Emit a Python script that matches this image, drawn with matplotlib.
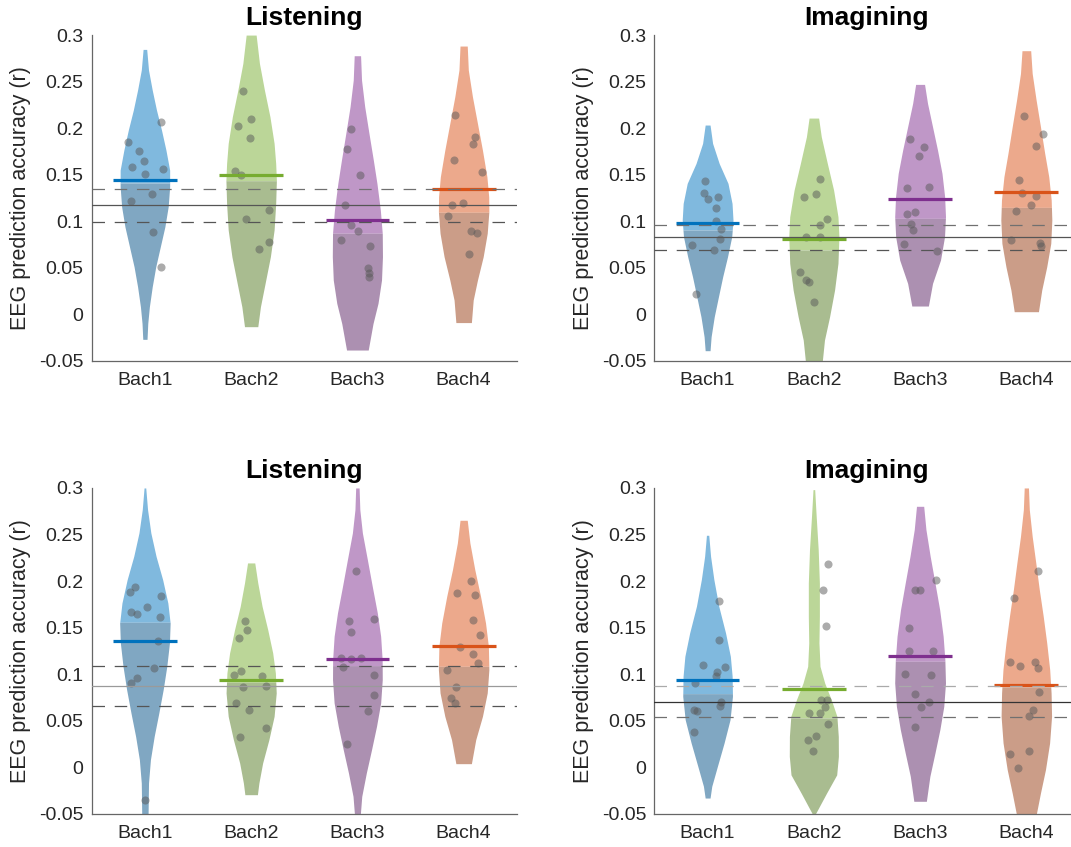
import matplotlib
matplotlib.use('Agg')
import matplotlib.pyplot as plt
import numpy as np

plt.rcParams['font.family'] = ['Liberation Sans', 'DejaVu Sans']
plt.rcParams['lines.scale_dashes'] = False

categories = ['Bach1', 'Bach2', 'Bach3', 'Bach4']
titles = ['Listening', 'Imagining', 'Listening', 'Imagining']
ylabel_text = 'EEG prediction accuracy (r)'
yticks = [-0.05, 0, 0.05, 0.1, 0.15, 0.2, 0.25, 0.3]
yticklabels = ['-0.05', '0', '0.05', '0.1', '0.15', '0.2', '0.25', '0.3']

# ---------------- Panel A: top-left, Listening ----------------
a_mean = [0.144, 0.150, 0.101, 0.135]
a_split = [0.141, 0.1435, 0.087, 0.1095]
a_thresh = [0.117, 0.135, 0.099]   # solid, upper dashed, lower dashed
a_edge_y = [
    [0.2846, 0.2624, 0.2409, 0.2194, 0.198, 0.1764, 0.1549, 0.137, 0.1155, 0.094, 0.0725, 0.051, 0.0296, 0.008, -0.0098, -0.027],
    [0.30, 0.2696, 0.2409, 0.2122, 0.1836, 0.162, 0.144, 0.119, 0.0905, 0.0618, 0.033, 0.0081, -0.0134],
    [0.2778, 0.2516, 0.223, 0.1943, 0.1657, 0.1406, 0.112, 0.0869, 0.0618, 0.0367, 0.0117, -0.010, -0.0385],
    [0.2882, 0.2624, 0.2337, 0.2051, 0.1764, 0.1478, 0.1263, 0.1102, 0.0869, 0.0618, 0.0367, 0.0152, -0.009],
]
a_edge_w = [
    [0.017, 0.034, 0.069, 0.109, 0.156, 0.198, 0.233, 0.233, 0.219, 0.188, 0.145, 0.102, 0.069, 0.042, 0.027, 0.020],
    [0.047, 0.078, 0.125, 0.177, 0.216, 0.231, 0.2375, 0.231, 0.216, 0.181, 0.131, 0.0875, 0.0625],
    [0.030, 0.039, 0.069, 0.109, 0.150, 0.184, 0.216, 0.234, 0.236, 0.227, 0.194, 0.147, 0.102],
    [0.034, 0.044, 0.083, 0.130, 0.177, 0.219, 0.236, 0.2375, 0.222, 0.184, 0.130, 0.090, 0.073],
]
a_pts = [
    [0.2069, 0.1847, 0.1754, 0.1646, 0.1585, 0.1564, 0.1506, 0.1295, 0.1213, 0.0887, 0.0504],
    [0.2398, 0.2097, 0.2022, 0.1893, 0.1542, 0.1499, 0.112, 0.1023, 0.0776, 0.070],
    [0.1986, 0.1775, 0.1499, 0.117, 0.0962, 0.089, 0.0797, 0.0733, 0.05, 0.0439, 0.0403],
    [0.214, 0.1908, 0.1825, 0.1653, 0.1528, 0.1191, 0.1177, 0.1052, 0.0898, 0.0869, 0.0643],
]
a_jit = [
    [0.147, -0.159, -0.056, -0.009, -0.125, 0.169, 0.003, 0.069, -0.131, 0.078, 0.156],
    [-0.072, -0.006, -0.125, -0.0125, -0.156, -0.094, 0.166, -0.047, 0.166, 0.078],
    [-0.059, -0.094, 0.022, -0.1125, -0.059, 0.003, -0.159, 0.122, 0.1, 0.109, 0.1125],
    [-0.081, 0.109, 0.084, -0.094, 0.169, -0.009, -0.106, -0.144, 0.072, 0.122, 0.053],
]

# ---------------- Panel B: top-right, Imagining ----------------
b_mean = [0.0976, 0.0811, 0.1234, 0.1313]
b_split = [0.0905, 0.069, 0.103, 0.1148]
b_thresh = [0.0826, 0.0955, 0.069]
b_edge_y = [
    [0.2033, 0.1836, 0.162, 0.1406, 0.1191, 0.1012, 0.0833, 0.0618, 0.0403, 0.0188, -0.0027, -0.0242, -0.0392],
    [0.2108, 0.1907, 0.162, 0.1334, 0.1048, 0.0833, 0.0547, 0.026, -0.0027, -0.0277, -0.05],
    [0.247, 0.2266, 0.2015, 0.1764, 0.1514, 0.1263, 0.1048, 0.0833, 0.0582, 0.0331, 0.0088],
    [0.2832, 0.2588, 0.2302, 0.2015, 0.1728, 0.1478, 0.1227, 0.1012, 0.0761, 0.051, 0.026, 0.0027],
]
b_edge_w = [
    [0.023, 0.047, 0.109, 0.192, 0.23, 0.239, 0.227, 0.1875, 0.142, 0.102, 0.0625, 0.033, 0.023],
    [0.045, 0.07, 0.127, 0.186, 0.227, 0.236, 0.227, 0.195, 0.148, 0.1, 0.08],
    [0.042, 0.07, 0.117, 0.164, 0.206, 0.231, 0.239, 0.23, 0.192, 0.117, 0.078],
    [0.041, 0.055, 0.092, 0.133, 0.173, 0.211, 0.234, 0.24, 0.23, 0.192, 0.145, 0.114],
]
b_pts = [
    [0.1431, 0.1306, 0.1263, 0.1241, 0.1137, 0.0998, 0.0912, 0.0808, 0.0743, 0.0686, 0.0213],
    [0.1453, 0.1292, 0.1256, 0.1019, 0.0958, 0.0833, 0.0826, 0.045, 0.0367, 0.0342, 0.0135],
    [0.1879, 0.1797, 0.1703, 0.1367, 0.1352, 0.1098, 0.1077, 0.0969, 0.0905, 0.0754, 0.0679],
    [0.213, 0.1933, 0.1807, 0.1438, 0.1299, 0.1274, 0.117, 0.1112, 0.0797, 0.0761, 0.0733],
]
b_jit = [
    [-0.028, -0.0375, 0.1, 0.006, 0.075, 0.075, 0.125, 0.119, -0.147, 0.056, -0.106],
    [0.0625, 0.016, -0.091, 0.128, 0.0625, -0.075, 0.059, -0.128, -0.078, -0.047, 0.003],
    [-0.094, 0.034, -0.006, 0.084, -0.119, -0.05, -0.125, -0.0875, -0.069, -0.156, 0.159],
    [-0.025, 0.153, 0.091, -0.069, -0.044, 0.091, 0.041, -0.094, -0.144, 0.128, 0.134],
]

# ---------------- Panel C: bottom-left, Listening ----------------
c_mean = [0.1354, 0.0939, 0.1164, 0.1307]
c_split = [0.1558, 0.0913, 0.1093, 0.1085]
c_thresh = [0.087, 0.1086, 0.0655]
c_edge_y = [
    [0.30, 0.2767, 0.2517, 0.2266, 0.2016, 0.1765, 0.155, 0.1336, 0.1085, 0.0835, 0.0584, 0.0334, 0.0083, -0.0167, -0.05],
    [0.2195, 0.198, 0.1729, 0.1479, 0.1228, 0.1014, 0.0799, 0.0548, 0.0298, 0.0047, -0.0167, -0.0293],
    [0.30, 0.2767, 0.2517, 0.223, 0.1944, 0.1658, 0.1407, 0.1157, 0.0942, 0.0692, 0.0441, 0.019, -0.006, -0.0311, -0.05],
    [0.2653, 0.2409, 0.2123, 0.1837, 0.1551, 0.13, 0.1049, 0.0799, 0.0548, 0.0298, 0.004],
]
c_edge_w = [
    [0.008, 0.025, 0.056, 0.105, 0.167, 0.216, 0.2375, 0.231, 0.206, 0.172, 0.131, 0.0875, 0.052, 0.034, 0.03],
    [0.034, 0.0625, 0.103, 0.156, 0.203, 0.228, 0.236, 0.216, 0.167, 0.108, 0.073, 0.059],
    [0.016, 0.023, 0.047, 0.094, 0.14, 0.1875, 0.219, 0.233, 0.234, 0.219, 0.18, 0.133, 0.084, 0.041, 0.028],
    [0.034, 0.059, 0.105, 0.159, 0.206, 0.233, 0.2375, 0.222, 0.177, 0.114, 0.073],
]
c_pts = [
    [0.194, 0.188, 0.1837, 0.1722, 0.1672, 0.1647, 0.1618, 0.1354, 0.1064, 0.0956, 0.0906, -0.0354],
    [0.1576, 0.1479, 0.139, 0.1039, 0.0989, 0.0978, 0.0867, 0.0871, 0.0695, 0.0616, 0.0419, 0.0327],
    [0.2112, 0.159, 0.1576, 0.1457, 0.1175, 0.1168, 0.1175, 0.1078, 0.0989, 0.0774, 0.0609, 0.0248],
    [0.2001, 0.1873, 0.1851, 0.1579, 0.1425, 0.1289, 0.1221, 0.1121, 0.1049, 0.0867, 0.0742, 0.0692],
]
c_jit = [
    [-0.091, -0.141, 0.153, 0.019, -0.134, -0.075, 0.1375, 0.119, 0.0875, -0.075, -0.128, -0.003],
    [-0.0625, -0.041, -0.119, -0.097, -0.1625, 0.103, -0.075, 0.1375, -0.144, -0.016, 0.1375, -0.106],
    [-0.016, 0.156, -0.078, -0.059, -0.159, -0.056, 0.031, -0.134, 0.156, 0.156, 0.1, -0.094],
    [0.066, -0.0625, 0.109, 0.091, 0.153, -0.031, 0.084, 0.134, -0.153, -0.075, -0.116, -0.081],
]

# ---------------- Panel D: bottom-right, Imagining ----------------
d_mean = [0.0935, 0.0842, 0.12, 0.0885]
d_split = [0.0792, 0.0531, 0.1139, 0.0863]
d_thresh = [0.0699, 0.087, 0.0538]
d_edge_y = [
    [0.2492, 0.2266, 0.2016, 0.173, 0.1443, 0.1193, 0.0978, 0.0763, 0.0512, 0.0262, 0.0011, -0.0203, -0.0329],
    [0.2982, 0.2696, 0.2338, 0.198, 0.1622, 0.1336, 0.1085, 0.0906, 0.0727, 0.0548, 0.0333, 0.0119, -0.008, -0.0275, -0.05],
    [0.2803, 0.2553, 0.2266, 0.198, 0.1694, 0.1407, 0.1157, 0.0906, 0.0656, 0.0405, 0.0155, -0.0096, -0.0364],
    [0.30, 0.2767, 0.2481, 0.2195, 0.1908, 0.1622, 0.1336, 0.1049, 0.0799, 0.0548, 0.0262, -0.0024, -0.0275, -0.05],
]
d_edge_w = [
    [0.011, 0.028, 0.059, 0.105, 0.169, 0.214, 0.231, 0.234, 0.211, 0.155, 0.092, 0.039, 0.023],
    [0.008, 0.022, 0.041, 0.052, 0.052, 0.048, 0.058, 0.102, 0.164, 0.217, 0.23, 0.231, 0.215, 0.12, 0.014],
    [0.034, 0.055, 0.095, 0.14, 0.184, 0.217, 0.233, 0.239, 0.223, 0.186, 0.14, 0.092, 0.059],
    [0.02, 0.028, 0.055, 0.089, 0.122, 0.159, 0.192, 0.22, 0.233, 0.2375, 0.219, 0.18, 0.133, 0.094],
]
d_pts = [
    [0.179, 0.1372, 0.1103, 0.1074, 0.1028, 0.0985, 0.0903, 0.0699, 0.0663, 0.062, 0.0609, 0.0377],
    [0.218, 0.1901, 0.1515, 0.072, 0.072, 0.0649, 0.0584, 0.0584, 0.0466, 0.0333, 0.0298, 0.0176],
    [0.2016, 0.1908, 0.1901, 0.15, 0.1253, 0.125, 0.1006, 0.0992, 0.0792, 0.0706, 0.0645, 0.043],
    [0.2112, 0.1815, 0.1128, 0.1128, 0.1092, 0.1064, 0.0813, 0.0613, 0.0548, 0.0176, 0.0147, -0.0006],
]
d_jit = [
    [0.106, 0.106, -0.041, 0.166, 0.084, 0.081, -0.122, 0.125, 0.119, -0.128, -0.097, -0.128],
    [0.1375, 0.0875, 0.1125, 0.069, 0.125, 0.106, -0.05, 0.056, 0.134, 0.022, -0.059, -0.009],
    [0.147, -0.05, 0.003, -0.106, -0.1, 0.125, -0.144, 0.103, -0.044, 0.084, 0.0125, -0.044],
    [0.106, -0.116, -0.153, 0.078, -0.056, 0.109, 0.116, 0.059, 0.025, 0.028, -0.153, -0.081],
]

# ---------------- styling ----------------
main_colors = ['#0072BD', '#77AC30', '#7E2F8E', '#D95319']


def blend(c, other, a):
    c = np.array(matplotlib.colors.to_rgb(c))
    o = np.array(matplotlib.colors.to_rgb(other))
    return tuple(c * (1 - a) + o * a)


def draw_violin(ax, x, ey, ew, split, color):
    ey = np.asarray(ey, float)
    ew = np.asarray(ew, float)
    order = np.argsort(ey)
    ey, ew = ey[order], ew[order]
    ws = np.interp(split, ey, ew)
    up = ey > split
    y_up = np.concatenate([[split], ey[up]])
    w_up = np.concatenate([[ws], ew[up]])
    y_lo = np.concatenate([ey[~up], [split]])
    w_lo = np.concatenate([ew[~up], [ws]])
    upper = blend(color, 'white', 0.5)
    lower = blend(upper, (0.5, 0.5, 0.5), 0.3)
    ax.fill_betweenx(y_up, x - w_up, x + w_up, color=upper, lw=0, zorder=1)
    ax.fill_betweenx(y_lo, x - w_lo, x + w_lo, color=lower, lw=0, zorder=1)


panels = [
    (a_mean, a_split, a_thresh, a_edge_y, a_edge_w, a_pts, a_jit),
    (b_mean, b_split, b_thresh, b_edge_y, b_edge_w, b_pts, b_jit),
    (c_mean, c_split, c_thresh, c_edge_y, c_edge_w, c_pts, c_jit),
    (d_mean, d_split, d_thresh, d_edge_y, d_edge_w, d_pts, d_jit),
]
rects = [
    [0.0857, 0.5741, 0.3968, 0.3845],
    [0.6111, 0.5741, 0.3968, 0.3845],
    [0.0857, 0.0390, 0.3968, 0.3849],
    [0.6111, 0.0390, 0.3968, 0.3849],
]
solid_cols = ['#555555', '#555555', '#9a9a9a', '#333333']
dash_hi_cols = ['#707070', '#707070', '#555555', '#aaaaaa']
dash_lo_cols = ['#555555', '#555555', '#555555', '#707070']

fig = plt.figure(figsize=(10.71, 8.47), dpi=100)

for p, (means, splits, thr, ey, ew, pts, jit) in enumerate(panels):
    ax = fig.add_axes(rects[p])
    xs = np.arange(1, len(categories) + 1)
    for i in range(len(categories)):
        draw_violin(ax, xs[i], ey[i], ew[i], splits[i], main_colors[i])
        ax.scatter(xs[i] + np.asarray(jit[i]), pts[i], s=34, color=(0.35, 0.35, 0.35),
                   alpha=0.5, linewidths=0, zorder=3)
        ax.plot([xs[i] - 0.3, xs[i] + 0.3], [means[i], means[i]], color=main_colors[i],
                lw=2.3, solid_capstyle='butt', zorder=4)
    ax.axhline(thr[0], color=solid_cols[p], lw=0.9, zorder=5)
    ax.axhline(thr[1], color=dash_hi_cols[p], lw=0.9, dashes=(9, 7), zorder=5)
    ax.axhline(thr[2], color=dash_lo_cols[p], lw=0.9, dashes=(9, 7), zorder=5)

    ax.set_xlim(0.5, 4.5)
    ax.set_ylim(-0.05, 0.3)
    ax.set_xticks(xs)
    ax.set_xticklabels(categories)
    ax.set_yticks(yticks)
    ax.set_yticklabels(yticklabels)
    ax.tick_params(length=0, labelsize=14, colors='#262626')
    ax.tick_params(axis='y', pad=6)
    ax.tick_params(axis='x', pad=8)
    for s in ['top', 'right']:
        ax.spines[s].set_visible(False)
    for s in ['left', 'bottom']:
        ax.spines[s].set_color('#666666')
        ax.spines[s].set_linewidth(0.9)
    ax.set_ylabel(ylabel_text, fontsize=15.5, color='#262626')
    ax.yaxis.set_label_coords(-0.142, 0.5)
    ax.set_title(titles[p], fontsize=19, fontweight='bold', pad=7)

fig.savefig('out.png', dpi=100)
